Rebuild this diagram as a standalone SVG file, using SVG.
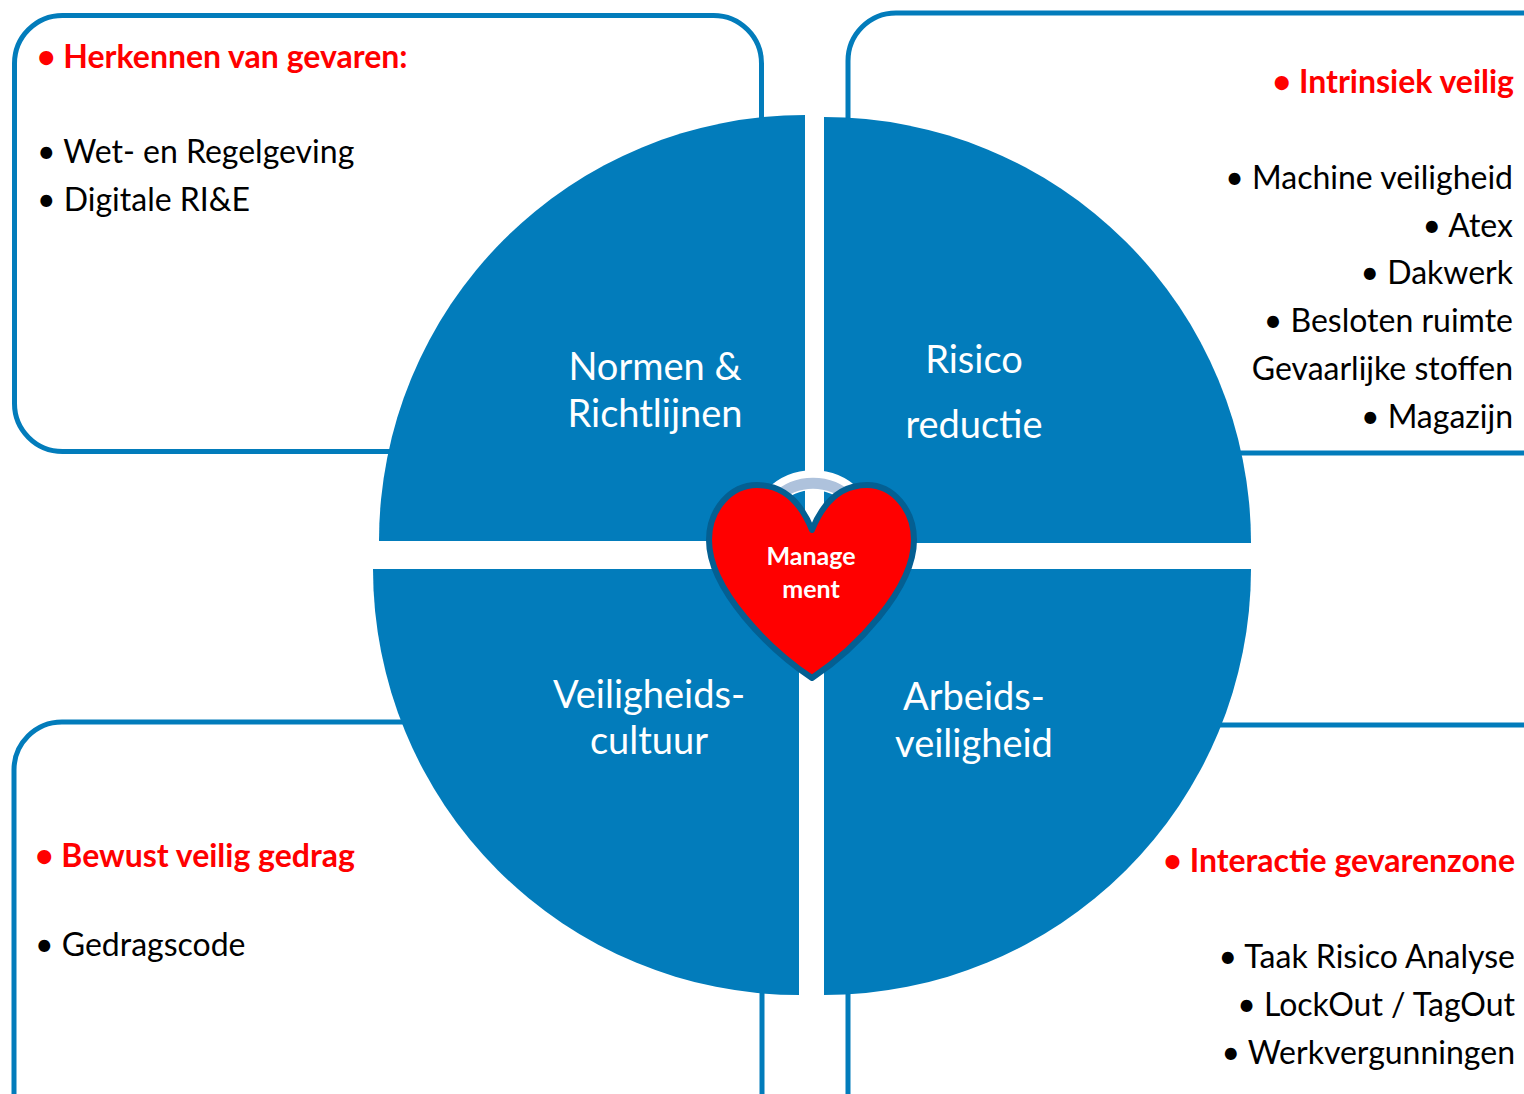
<svg xmlns="http://www.w3.org/2000/svg" width="1524" height="1094" viewBox="0 0 1524 1094">
<style>
text{font-family:Lato,"Open Sans","Liberation Sans",sans-serif}
.box{fill:none;stroke:#027cbb;stroke-width:5}
.q{fill:#027cbb}
.ql{font-size:38px;fill:#fff;text-anchor:middle}
.h{font-size:32px;font-weight:700;fill:#f00}
.b{font-size:32px;fill:#000}
.r{text-anchor:end}
</style>
<rect width="1524" height="1094" fill="#fff"/>
<g id="box-tl"><rect class="box" x="14.500" y="15.500" width="747" height="436" rx="48"/></g>
<g id="box-tr"><rect class="box" x="848" y="13" width="727" height="440" rx="48"/></g>
<g id="box-bl"><rect class="box" x="14" y="722" width="748" height="420" rx="48"/></g>
<g id="box-br"><rect class="box" x="848" y="725" width="727" height="420" rx="48"/></g>
<g id="quadrant-normen"><path class="q" d="M805 115A426 426 0 0 0 379 541H805Z"/><text class="ql" x="655" y="380">Normen &amp;</text><text class="ql" x="655" y="427">Richtlijnen</text></g>
<g id="quadrant-risico"><path class="q" d="M824 117A427 426 0 0 1 1251 543H824Z"/><text class="ql" x="974" y="373">Risico</text><text class="ql" x="974" y="438">reductie</text></g>
<g id="quadrant-cultuur"><path class="q" d="M799 995A426 426 0 0 1 373 569H799Z"/><text class="ql" x="649" y="708">Veiligheids-</text><text class="ql" x="649" y="754">cultuur</text></g>
<g id="quadrant-arbeid"><path class="q" d="M824 995A427 426 0 0 0 1251 569H824Z"/><text class="ql" x="974" y="710">Arbeids-</text><text class="ql" x="974" y="757">veiligheid</text></g>
<g id="text-tl"><text class="h" x="37" y="68">• Herkennen van gevaren:</text><text class="b" x="37" y="163">• Wet- en Regelgeving</text><text class="b" x="37" y="211">• Digitale RI&amp;E</text></g>
<g id="text-tr"><text class="h r" x="1514" y="93">• Intrinsiek veilig</text><text class="b r" x="1513" y="189">• Machine veiligheid</text><text class="b r" x="1513" y="237">• Atex</text><text class="b r" x="1513" y="284">• Dakwerk</text><text class="b r" x="1513" y="332">• Besloten ruimte</text><text class="b r" x="1513" y="380">Gevaarlijke stoffen</text><text class="b r" x="1513" y="428">• Magazijn</text></g>
<g id="text-bl"><text class="h" x="35" y="867">• Bewust veilig gedrag</text><text class="b" x="35" y="956">• Gedragscode</text></g>
<g id="text-br"><text class="h r" x="1515" y="872">• Interactie gevarenzone</text><text class="b r" x="1515" y="968">• Taak Risico  Analyse</text><text class="b r" x="1515" y="1016">• LockOut / TagOut</text><text class="b r" x="1515" y="1064">• Werkvergunningen</text></g>
<g id="heart">
<path d="M773 497A56 56 0 0 1 853 497" fill="none" stroke="#fff" stroke-width="20"/>
<path d="M775 499A54 54 0 0 1 851 499" fill="none" stroke="#aec2dc" stroke-width="11"/>
<path d="M812 530C800 500 782 485 757 485C730 485 709 510 709 540C709 590 770 650 812 678C854 650 914 590 914 540C914 510 893 485 867 485C842 485 824 500 812 530Z" fill="#f00" stroke="#045f92" stroke-width="6" stroke-linejoin="round"/>
<text x="811" y="565" font-size="25" font-weight="700" fill="#fff" text-anchor="middle">Manage</text>
<text x="811" y="598" font-size="25" font-weight="700" fill="#fff" text-anchor="middle">ment</text>
</g>
</svg>
